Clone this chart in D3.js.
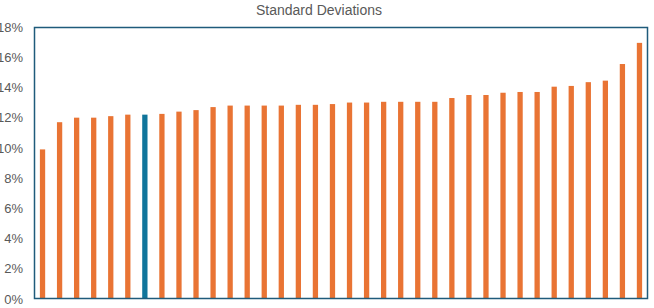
<!DOCTYPE html>
<html>
<head>
<meta charset="utf-8">
<script src="https://cdn.jsdelivr.net/npm/d3@7"></script>
<style>
  body { margin: 0; background: #fff; }
  svg { display: block; font-family: "Liberation Sans", Arial, sans-serif; }
</style>
</head>
<body>
<svg id="chart"></svg>
<script>
// standard deviation per fund, sorted ascending (the highlighted one is index 6)
const funds = d3.range(1, 37).map(i => "F" + i);
const stdDevs = [
  9.9, 11.7, 12.0, 12.0, 12.1, 12.2, 12.2, 12.25, 12.4, 12.5,
  12.7, 12.8, 12.8, 12.8, 12.8, 12.85, 12.85, 12.9, 13.0, 13.0,
  13.05, 13.05, 13.05, 13.05, 13.3, 13.5, 13.5, 13.65, 13.7, 13.7,
  14.05, 14.1, 14.35, 14.45, 15.55, 16.95
];
const highlightIndex = 6;
const yTicks = [0, 2, 4, 6, 8, 10, 12, 14, 16, 18];
const title = "Standard Deviations";

const width = 654, height = 308;
const margin = { top: 27, right: 6, bottom: 9, left: 34 };

const svg = d3.select("#chart").attr("width", width).attr("height", height);

const x = d3.scaleBand()
  .domain(funds)
  .range([margin.left, width - margin.right])
  .paddingInner(0.69)
  .paddingOuter(0.345);

const y = d3.scaleLinear()
  .domain([0, 18])
  .range([height - margin.bottom, margin.top]);

// title
svg.append("text")
  .attr("x", 319)
  .attr("y", 15)
  .attr("text-anchor", "middle")
  .attr("fill", "#595959")
  .style("font-size", "14px")
  .text(title);

// y axis labels, no ticks (the chart crops them a bit at the left edge)
const yAxis = svg.append("g")
  .attr("transform", `translate(${margin.left},0)`)
  .call(d3.axisLeft(y).tickValues(yTicks).tickFormat(d => d + "%").tickSize(0).tickPadding(11));
yAxis.select(".domain").remove();
yAxis.selectAll("text")
  .attr("fill", "#595959")
  .style("font-size", "13px")
  .style("font-family", "\"Liberation Sans\", Arial, sans-serif");

// bars
svg.append("g")
  .selectAll("rect")
  .data(stdDevs)
  .join("rect")
  .attr("x", (d, i) => x(funds[i]))
  .attr("y", d => y(d))
  .attr("width", x.bandwidth())
  .attr("height", d => y(0) - y(d))
  .attr("fill", (d, i) => i === highlightIndex ? "#10759B" : "#E97434");

// plot frame
svg.append("rect")
  .attr("x", margin.left + 0.5)
  .attr("y", margin.top + 0.5)
  .attr("width", width - margin.left - margin.right - 1)
  .attr("height", height - margin.top - margin.bottom - 1)
  .attr("fill", "none")
  .attr("stroke", "#1F5B7B")
  .attr("stroke-width", 1.5);
</script>
</body>
</html>
